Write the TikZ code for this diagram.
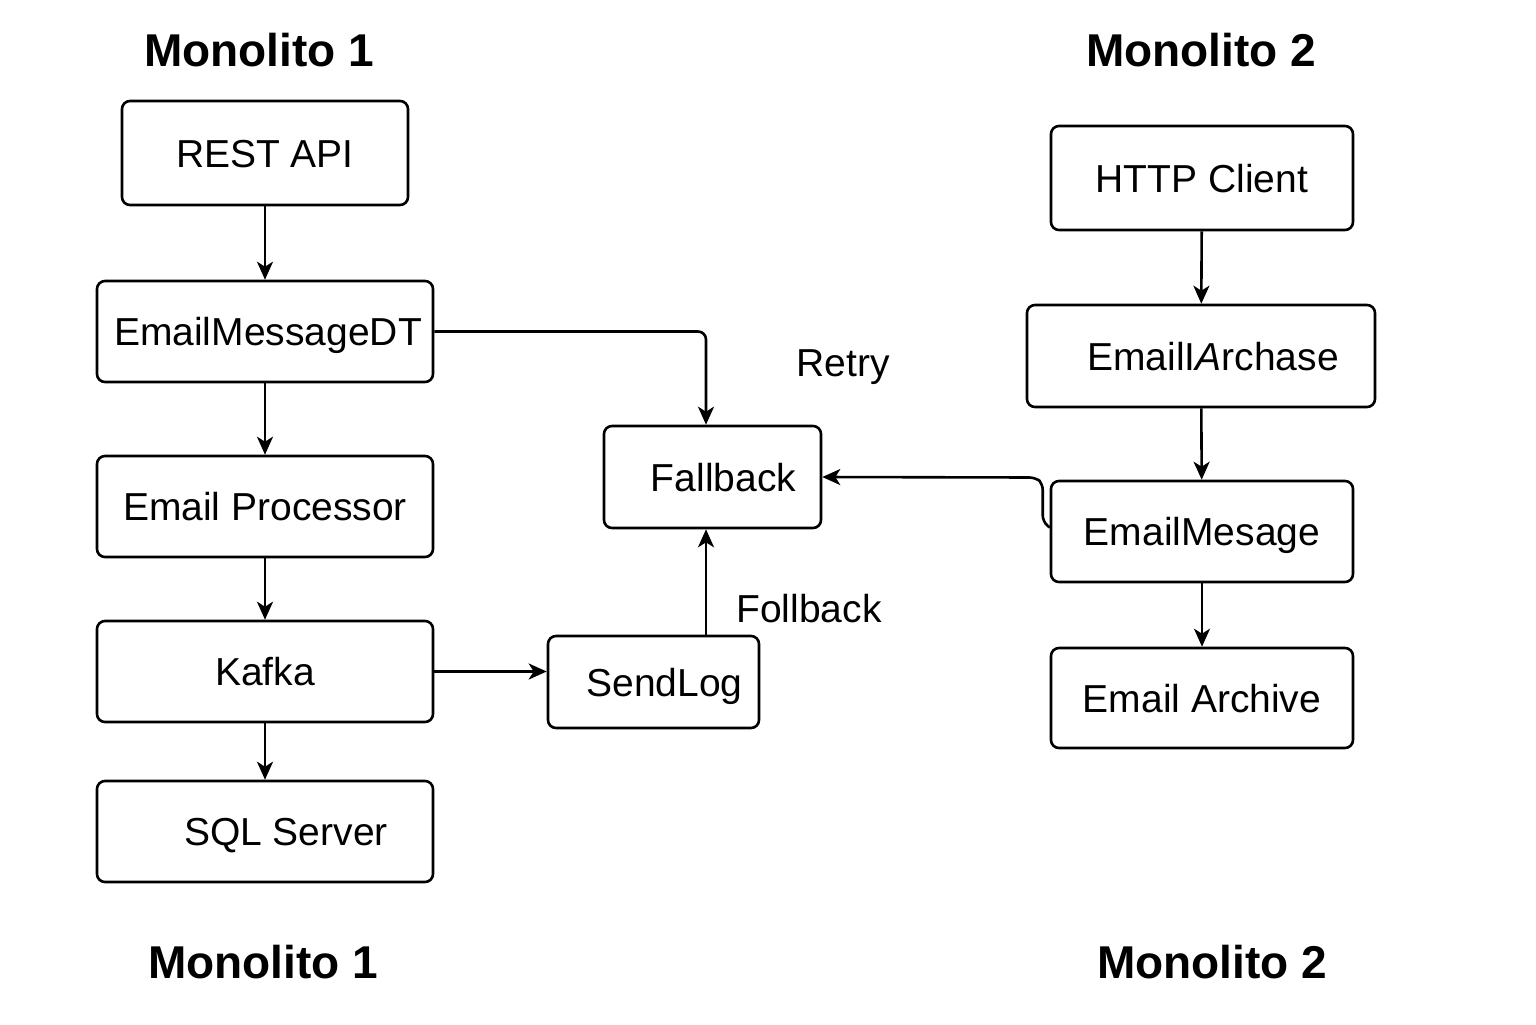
\documentclass[tikz,border=0pt]{standalone}
\usepackage{fontspec}
\setmainfont{Liberation Sans}
\usetikzlibrary{arrows.meta}
\begin{document}
\begin{tikzpicture}[x=0.5pt,y=-0.5pt,
  box/.style={draw, line width=1.3pt, rounded corners=4pt, inner sep=0pt,
    text height=14pt, text depth=0pt,
    font=\fontsize{19.5}{22}\selectfont, minimum width=168pt, minimum height=50.5pt},
  rbox/.style={box, minimum width=151pt},
  title/.style={font=\fontsize{23}{26}\selectfont\bfseries},
  lbl/.style={font=\fontsize{19.5}{22}\selectfont},
  arr/.style={line width=1.3pt, -{Stealth[length=9pt,width=8pt,inset=2.5pt]}}]
\useasboundingbox (0,0) rectangle (1536,1024);
% titles
\node[title] (t1) at (259,50) {Monolito 1};
\node[title] (t2) at (1201,50) {Monolito 2};
\node[title] (b1) at (263,962) {Monolito 1};
\node[title] (b2) at (1212,962) {Monolito 2};
% left column
\node[box, minimum width=143pt, minimum height=52pt] (rest) at (265,153) {REST API};
\node[box] (emdt) at (265,331.5) {\hspace*{3pt}EmailMessageDT};
\node[box] (ep) at (265,506.5) {Email Processor};
\node[box] (kafka) at (265,671.5) {Kafka};
\node[box] (sql) at (265,831.5) {\hspace*{21pt}SQL Server};
% middle
\node[box, minimum width=108.5pt, minimum height=51pt] (fb) at (712.5,477) {\hspace*{11pt}Fallback};
\node[box, minimum width=105.5pt, minimum height=46pt] (sl) at (653.5,682) {\hspace*{11pt}SendLog};
\node[lbl] (retry) at (843,367) {Retry};
\node[lbl] (follback) at (809,609) {Follback};
% right column
\node[rbox, minimum height=52pt] (http) at (1202,178) {HTTP Client};
\node[box, minimum width=174pt, minimum height=51pt] (eia) at (1201,356) {\hspace*{12pt}EmailI{\itshape A}rchase};
\node[rbox] (em) at (1202,531.5) {EmailMesage};
\node[rbox, minimum height=50pt] (ea) at (1202,698) {Email Archive};
% connectors left
\draw[arr] (rest) -- (emdt);
\draw[arr] (emdt) -- (ep);
\draw[arr] (ep) -- (kafka);
\draw[arr] (kafka) -- (sql);
\draw[arr, rounded corners=4pt] (emdt.east) -| ([xshift=-3.25pt]fb.north);
\draw[arr] (kafka.east) -- (kafka.east -| sl.west);
\draw[arr] ([xshift=-3.25pt]fb.south |- sl.north) -- ([xshift=-3.25pt]fb.south);
% connectors right
\draw[arr] (http) -- (eia);
\draw[arr] (eia) -- (em);
\draw[arr] (em) -- (ea);
\draw[arr, rounded corners=3pt] ([yshift=2pt]em.west) -- ++(-7,-6) -- ++(0,-38) -- ++(-7,-6) -- (fb.east);
\end{tikzpicture}
\end{document}
